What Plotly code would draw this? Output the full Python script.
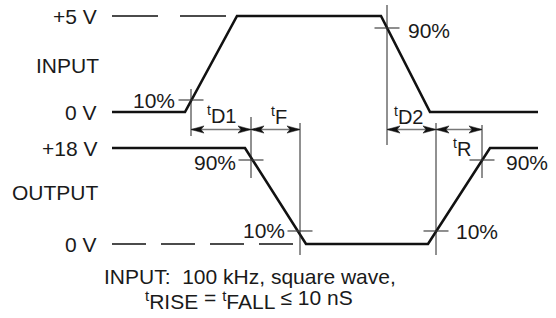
import plotly.graph_objects as go

# ---------------- data ----------------
# waveform corner points: time (arbitrary units) and volts
input_t = [112, 185, 237, 381, 430, 538]
input_v = [0, 0, 5, 5, 0, 0]
output_t = [112, 245, 306, 428, 490, 538]
output_v = [18, 18, 0, 0, 18, 18]

# reference levels
input_levels = [5, 0]
input_level_labels = ["+5 V", "0 V"]
output_levels = [18, 0]
output_level_labels = ["+18 V", "0 V"]

# dashed reference lines (time span, level)
input_dash_span = [112, 226]
input_dash_level = 5
output_dash_span = [112, 296]
output_dash_level = 0

# 10% / 90% crossing marks (time, volts)
input_mark_t = [191, 387]
input_mark_v = [0.625, 4.375]
input_mark_text = ["10%", "90%"]
output_mark_t = [251, 300, 436, 482]
output_mark_v = [15.75, 2.44, 2.44, 15.75]
output_mark_text = ["90%", "10%", "10%", "90%"]

# timing intervals
interval_names = ["D1", "F", "D2", "R"]
interval_start = [191, 251, 387, 436]
interval_end = [251, 300, 436, 482]

note_line1 = "INPUT:\u00a0 100 kHz, square wave,"
note_line2 = ("<span style='font-size:10px'><sup><span style='font-size:15px'>t</span></sup></span>"
              "<sub><span style='font-size:21px'>RISE</span></sub> = "
              "<span style='font-size:10px'><sup><span style='font-size:15px'>t</span></sup></span>"
              "<sub><span style='font-size:21px'>FALL</span></sub> \u2264 10 nS")

# ---------------- layout constants ----------------
W, H = 556, 318
IN_HI_PX, IN_LO_PX = 16, 112
OUT_HI_PX, OUT_LO_PX = 148, 244
FONT = "Arial, 'Liberation Sans', sans-serif"
TXT = "#1a1a1a"


def axis_range(v_lo, v_hi, p_lo, p_hi):
    scale = (p_lo - p_hi) / (v_hi - v_lo)  # px per volt
    top = v_hi + p_hi / scale
    bottom = top - H / scale
    return [bottom, top]


in_range = axis_range(0, 5, IN_LO_PX, IN_HI_PX)
out_range = axis_range(0, 18, OUT_LO_PX, OUT_HI_PX)

fig = go.Figure()

# waveforms
fig.add_trace(go.Scatter(x=input_t, y=input_v, mode="lines", yaxis="y",
                         line=dict(color="#111", width=2.6), hoverinfo="skip"))
fig.add_trace(go.Scatter(x=output_t, y=output_v, mode="lines", yaxis="y2",
                         line=dict(color="#111", width=2.6), hoverinfo="skip"))

# dashed reference lines
fig.add_trace(go.Scatter(x=input_dash_span, y=[input_dash_level] * 2, mode="lines", yaxis="y",
                         line=dict(color="#111", width=1.3, dash="46px,22px"), hoverinfo="skip"))
fig.add_trace(go.Scatter(x=output_dash_span, y=[output_dash_level] * 2, mode="lines", yaxis="y2",
                         line=dict(color="#111", width=1.3, dash="34px,15px"), hoverinfo="skip"))

shapes = []
annotations = []
TICK_HALF = 12.5

# crosshair horizontal ticks
for t, v in zip(input_mark_t, input_mark_v):
    shapes.append(dict(type="line", xref="x", yref="y", x0=t - TICK_HALF, x1=t + TICK_HALF,
                       y0=v, y1=v, line=dict(color="#444", width=1.2)))
for t, v in zip(output_mark_t, output_mark_v):
    shapes.append(dict(type="line", xref="x", yref="y2", x0=t - TICK_HALF, x1=t + TICK_HALF,
                       y0=v, y1=v, line=dict(color="#444", width=1.2)))

# vertical extension lines (pixel extents)
in_vext = [(89, 136), (5, 145)]
out_vext = [(117, 178), (123, 255), (123, 255), (125, 178)]
for t, (a, b) in zip(input_mark_t + output_mark_t, in_vext + out_vext):
    shapes.append(dict(type="line", xref="x", yref="y3", x0=t, x1=t, y0=a, y1=b,
                       line=dict(color="#222", width=1)))

# arrows
ARROW_Y = 129.5
HEAD_L, HEAD_W, NOTCH = 13, 3.6, 3
for s, e in zip(interval_start, interval_end):
    shapes.append(dict(type="line", xref="x", yref="y3", x0=s, x1=e, y0=ARROW_Y, y1=ARROW_Y,
                       line=dict(color="#777", width=1.6)))
    p1 = (f"M{s},{ARROW_Y} L{s + HEAD_L},{ARROW_Y - HEAD_W} L{s + HEAD_L - NOTCH},{ARROW_Y} "
          f"L{s + HEAD_L},{ARROW_Y + HEAD_W} Z")
    p2 = (f"M{e},{ARROW_Y} L{e - HEAD_L},{ARROW_Y - HEAD_W} L{e - HEAD_L + NOTCH},{ARROW_Y} "
          f"L{e - HEAD_L},{ARROW_Y + HEAD_W} Z")
    for p in (p1, p2):
        shapes.append(dict(type="path", xref="x", yref="y3", path=p,
                           fillcolor="#111", line=dict(color="#111", width=0.5)))

# interval labels: (center x, baseline px)
lab_pos = [(221, 124), (279, 125), (408, 125), (462, 157)]
for name, (cx, base) in zip(interval_names, lab_pos):
    annotations.append(dict(x=cx, y=base + 5.2, xref="x", yref="y3", xanchor="center",
                            yanchor="bottom", showarrow=False, text=f"<sup>t</sup>{name}",
                            font=dict(family=FONT, size=20, color=TXT)))

# percent labels (pixel anchor)
in_lab = [(177, "right", 100), (406, "left", 30)]
out_lab = [(238, "right", 162), (287, "right", 230), (454, "left", 231), (504, "left", 162)]
for txt, (x, anc, y) in zip(input_mark_text + output_mark_text, in_lab + out_lab):
    annotations.append(dict(x=x, y=y, xref="x", yref="y3", xanchor=anc, yanchor="middle",
                            showarrow=False, text=txt,
                            font=dict(family=FONT, size=21, color=TXT)))

# level labels
for lvl, txt in zip(input_levels, input_level_labels):
    annotations.append(dict(x=99, y=lvl, xref="x", yref="y", xanchor="right", yanchor="middle",
                            showarrow=False, text=txt, font=dict(family=FONT, size=21, color=TXT)))
for lvl, txt in zip(output_levels, output_level_labels):
    annotations.append(dict(x=99, y=lvl, xref="x", yref="y2", xanchor="right", yanchor="middle",
                            showarrow=False, text=txt, font=dict(family=FONT, size=21, color=TXT)))

annotations.append(dict(x=101, y=65, xref="x", yref="y3", xanchor="right", yanchor="middle",
                        showarrow=False, text="INPUT", font=dict(family=FONT, size=21, color=TXT)))
annotations.append(dict(x=101, y=192, xref="x", yref="y3", xanchor="right", yanchor="middle",
                        showarrow=False, text="OUTPUT", font=dict(family=FONT, size=21, color=TXT)))

# notes
annotations.append(dict(x=250, y=289.5, xref="x", yref="y3", xanchor="center", yanchor="bottom",
                        showarrow=False, text=note_line1, font=dict(family=FONT, size=21, color=TXT)))
annotations.append(dict(x=249, y=315, xref="x", yref="y3", xanchor="center", yanchor="bottom",
                        showarrow=False, text=note_line2, font=dict(family=FONT, size=21, color=TXT)))

hidden = dict(visible=False, fixedrange=True, showgrid=False, zeroline=False)
fig.update_layout(
    width=W, height=H,
    margin=dict(l=0, r=0, t=0, b=0),
    paper_bgcolor="white", plot_bgcolor="white",
    showlegend=False,
    xaxis=dict(range=[0, W], **hidden),
    yaxis=dict(range=in_range, **hidden),
    yaxis2=dict(range=out_range, overlaying="y", **hidden),
    yaxis3=dict(range=[H, 0], overlaying="y", **hidden),
    shapes=shapes,
    annotations=annotations,
)

fig.write_html("out.html", config={"displayModeBar": False, "staticPlot": True},
               post_script="document.body.style.margin='0';document.body.style.overflow='hidden';")
